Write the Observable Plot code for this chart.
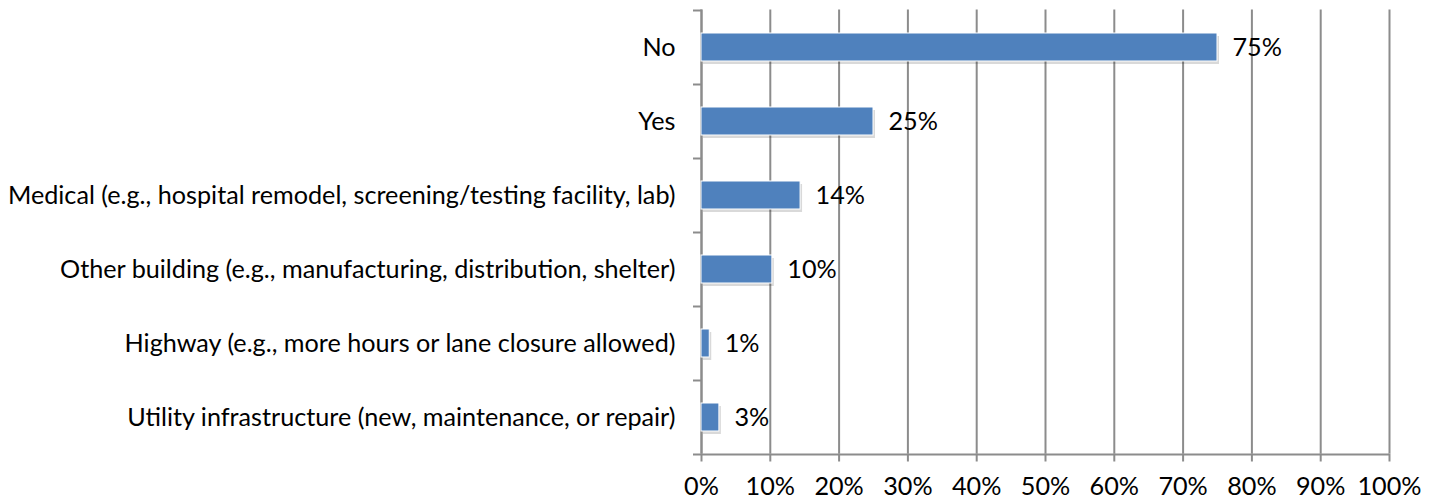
<!DOCTYPE html>
<html><head><meta charset="utf-8">
<script src="https://cdn.jsdelivr.net/npm/d3@7"></script>
<script src="https://cdn.jsdelivr.net/npm/@observablehq/plot@0.6"></script>
<style>body{margin:0;background:#fff;overflow:hidden}</style>
</head><body><div id="chart"></div>
<script>
const categories = [
  "No",
  "Yes",
  "Medical (e.g., hospital remodel, screening/testing facility, lab)",
  "Other building (e.g., manufacturing, distribution, shelter)",
  "Highway (e.g., more hours or lane closure allowed)",
  "Utility infrastructure (new, maintenance, or repair)"
];
const values = [75, 25, 14.4, 10.3, 1.2, 2.6];
const valueLabels = ["75%", "25%", "14%", "10%", "1%", "3%"];
const xTicks = [0, 10, 20, 30, 40, 50, 60, 70, 80, 90, 100];

const data = categories.map((c, i) => ({category: c, value: values[i], label: valueLabels[i]}));

const W = 1435, H = 501, mL = 701, mR = 46, mT = 9.5, mB = 47.5;
const step = (H - mT - mB) / categories.length;
const barH = 28;
const tickPx = 8;
const tickU = tickPx * 100 / (W - mL - mR);
const gray = "#8c8c8c";
const font = "Lato, 'Open Sans', sans-serif";
const fs = 25.2;

const plot = Plot.plot({
  width: W, height: H,
  marginLeft: mL, marginRight: mR, marginTop: mT, marginBottom: mB,
  style: {fontFamily: font, fontSize: fs + "px", color: "#000", background: "#fff"},
  x: {domain: [0, 100]},
  y: {domain: categories, padding: 0},
  marks: [
    Plot.gridX(xTicks, {stroke: gray, strokeOpacity: 1, strokeWidth: 2}),
    Plot.ruleX([0], {stroke: gray, strokeWidth: 2}),
    Plot.ruleY(categories, {y: d => d, dy: -step / 2, x1: -tickU, x2: 0, stroke: gray, strokeWidth: 2}),
    Plot.ruleY([categories[categories.length - 1]], {y: d => d, dy: step / 2, x1: -tickU, x2: 100, stroke: gray, strokeWidth: 2}),
    Plot.axisX(xTicks, {tickFormat: d => d + "%", tickSize: tickPx, tickPadding: 15, stroke: gray, strokeWidth: 2, fill: "#000", fontSize: fs, label: null}),
    Plot.axisY({tickSize: 0, tickPadding: 26, fill: "#000", fontSize: fs, label: null}),
    Plot.barX(data, {x: "value", y: "category", insetTop: (step - barH) / 2, insetBottom: (step - barH) / 2, fill: "#000", fillOpacity: 0.15, dx: 2, dy: 3}),
    Plot.barX(data, {x: "value", y: "category", insetTop: (step - barH) / 2, insetBottom: (step - barH) / 2, fill: "#4f81bd", stroke: "#fff", strokeWidth: 1}),
    Plot.text(data, {x: "value", y: "category", text: "label", textAnchor: "start", dx: 15, fill: "#000", fontSize: fs})
  ]
});
document.getElementById("chart").appendChild(plot);
</script>
</body></html>
